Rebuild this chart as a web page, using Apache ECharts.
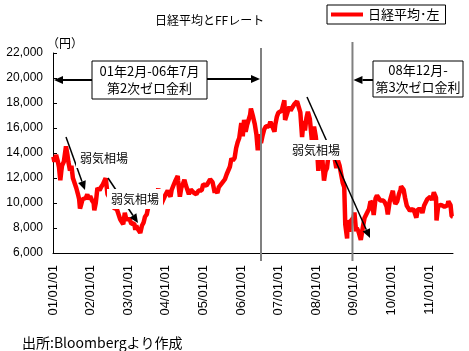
<!DOCTYPE html>
<html><head><meta charset="utf-8">
<script src="https://cdn.jsdelivr.net/npm/echarts@6/dist/echarts.min.js"></script>
<style>html,body{margin:0;padding:0;background:#fff}#c{width:469px;height:351px}</style>
</head><body><div id="c"></div>
<script>
// ---- data ----
const dates = [
'2001-01-04','2001-01-15','2001-01-31','2001-02-15','2001-02-28','2001-03-13','2001-03-22','2001-03-30','2001-04-16','2001-04-27','2001-05-07','2001-05-22','2001-05-31','2001-06-15','2001-06-29','2001-07-13','2001-07-31','2001-08-15','2001-08-31','2001-09-12','2001-09-20','2001-09-28','2001-10-15','2001-10-31','2001-11-15','2001-11-30','2001-12-14','2001-12-28',
'2002-01-15','2002-01-31','2002-02-06','2002-02-20','2002-02-28','2002-03-08','2002-03-29','2002-04-15','2002-04-30','2002-05-27','2002-05-31','2002-06-14','2002-06-28','2002-07-15','2002-07-31','2002-08-15','2002-08-30','2002-09-13','2002-09-30','2002-10-15','2002-10-31','2002-11-14','2002-11-29','2002-12-13','2002-12-27',
'2003-01-15','2003-01-31','2003-02-14','2003-02-28','2003-03-11','2003-03-20','2003-03-31','2003-04-15','2003-04-28','2003-05-15','2003-05-30','2003-06-13','2003-06-30','2003-07-15','2003-07-31','2003-08-18','2003-08-29','2003-09-12','2003-09-30','2003-10-20','2003-10-31','2003-11-17','2003-11-28','2003-12-15','2003-12-30',
'2004-01-20','2004-01-30','2004-02-16','2004-02-27','2004-03-15','2004-03-31','2004-04-26','2004-04-30','2004-05-17','2004-05-31','2004-06-15','2004-06-30','2004-07-15','2004-07-30','2004-08-13','2004-08-31','2004-09-15','2004-09-30','2004-10-25','2004-10-29','2004-11-15','2004-11-30','2004-12-15','2004-12-30',
'2005-01-14','2005-01-31','2005-02-15','2005-02-28','2005-03-07','2005-03-31','2005-04-21','2005-04-28','2005-05-17','2005-05-31','2005-06-15','2005-06-30','2005-07-15','2005-07-29','2005-08-15','2005-08-31','2005-09-15','2005-09-30','2005-10-14','2005-10-31','2005-11-15','2005-11-30','2005-12-15','2005-12-30',
'2006-01-04','2006-01-18','2006-01-31','2006-02-15','2006-02-28','2006-03-15','2006-03-31','2006-04-07','2006-04-28','2006-05-15','2006-05-31','2006-06-13','2006-06-30','2006-07-14','2006-07-31','2006-08-15','2006-08-31','2006-09-15','2006-09-29','2006-10-13','2006-10-31','2006-11-22','2006-11-30','2006-12-15','2006-12-29',
'2007-01-15','2007-01-31','2007-02-26','2007-03-05','2007-03-30','2007-04-16','2007-04-27','2007-05-15','2007-05-31','2007-06-15','2007-06-29','2007-07-09','2007-07-31','2007-08-17','2007-08-31','2007-09-14','2007-09-28','2007-10-12','2007-10-31','2007-11-22','2007-11-30','2007-12-11','2007-12-28',
'2008-01-11','2008-01-22','2008-01-31','2008-02-15','2008-02-29','2008-03-17','2008-03-31','2008-04-15','2008-04-30','2008-05-19','2008-05-30','2008-06-06','2008-06-30','2008-07-15','2008-07-31','2008-08-15','2008-08-29','2008-09-16','2008-09-30','2008-10-10','2008-10-28','2008-10-31','2008-11-14','2008-11-20','2008-11-28','2008-12-15','2008-12-30',
'2009-01-07','2009-01-23','2009-01-30','2009-02-16','2009-02-27','2009-03-10','2009-03-31','2009-04-15','2009-04-30','2009-05-15','2009-05-29','2009-06-12','2009-06-30','2009-07-13','2009-07-31','2009-08-14','2009-08-31','2009-09-15','2009-09-30','2009-10-15','2009-10-30','2009-11-16','2009-11-27','2009-12-15','2009-12-30',
'2010-01-15','2010-01-29','2010-02-09','2010-02-26','2010-03-15','2010-03-31','2010-04-05','2010-04-30','2010-05-14','2010-05-31','2010-06-15','2010-06-30','2010-07-15','2010-07-30','2010-08-16','2010-08-31','2010-09-15','2010-09-30','2010-10-15','2010-10-29','2010-11-15','2010-11-30','2010-12-15','2010-12-30',
'2011-01-14','2011-01-31','2011-02-17','2011-02-28','2011-03-10','2011-03-15','2011-03-31','2011-04-15','2011-04-28','2011-05-16','2011-05-31','2011-06-15','2011-06-30','2011-07-08','2011-07-29','2011-08-09','2011-08-22'
];
const nikkei = [
13691,13300,13843,13400,12883,11820,12500,12999,13300,13934,14529,13800,13262,12600,12969,12000,11860,11200,10713,10292,9554,9774,10300,10366,10400,10697,10300,10542,
10200,9997,9420,10000,10587,11200,11024,11300,11492,11979,11763,10700,10621,10300,9877,9600,9619,9500,9383,8700,8640,8303,9215,8700,8579,
8700,8340,8500,8363,7862,8200,7973,7900,7607,8200,8425,8900,9083,9700,9563,10000,10344,10700,10219,11161,10560,9900,10101,10200,10677,
11000,10784,10500,11042,11400,11715,12163,11762,10505,11236,11500,11858,11400,11326,10700,11082,11100,10824,10700,10771,11000,10899,11000,11489,
11400,11388,11600,11740,11900,11669,10825,11009,10800,11277,11400,11584,11700,11900,12300,12414,12900,13574,13400,13607,14400,14872,15200,16111,
16400,15341,16650,15700,16205,16300,17060,17563,16906,16300,15467,14219,15505,14800,15457,15900,16141,16100,16128,16500,16399,15700,16274,16900,17226,
17300,17383,18216,16642,17288,17700,17400,17500,17876,18000,18138,18261,17248,15273,16569,15800,16786,17300,16737,14837,15681,16100,15308,
14100,12573,13592,13600,13603,11787,12526,12800,13850,14269,14339,14489,13481,12800,13377,13000,13073,11600,11260,8276,7162,8577,8400,7703,8512,8600,8860,
9239,7745,7994,7700,7568,7054,8110,8800,8828,9300,9523,10135,9958,9050,10357,10600,10493,10200,10133,10200,10035,9700,9081,10100,10546,
10982,10198,9932,10126,10700,11090,11339,11057,10400,9769,9900,9383,9500,9537,9200,8824,9500,9369,9500,9202,9800,9937,10300,10229,
10500,10238,10857,10624,10434,8605,9755,9600,9850,9700,9694,9600,9816,10138,9833,8944,8900
];
const xTickLabels = ['01/01/01','02/01/01','03/01/01','04/01/01','05/01/01','06/01/01','07/01/01','08/01/01','09/01/01','10/01/01','11/01/01'];
const zeroRateEnds = ['2006-07-14','2008-12-19'];
const seriesName = '日経平均･左';

function dy(s){const [y,m,d]=s.split('-').map(Number);const t=Date.UTC(y,m-1,d),a=Date.UTC(y,0,1),b=Date.UTC(y+1,0,1);return y+(t-a)/(b-a);}
const NUM = '"Liberation Sans", Arial, "Noto Sans CJK JP", sans-serif';
const JP = '"Noto Sans CJK JP", "Liberation Sans", sans-serif';

const chart = echarts.init(document.getElementById('c'), null, {renderer:'canvas'});
const xMin = 2001, xMax = dy(dates[dates.length-1]);
chart.setOption({
  animation:false,
  backgroundColor:'#fff',
  title:{text:'日経平均とFFレート', left:150, top:9, textStyle:{fontFamily:JP, fontSize:12, fontWeight:'normal', color:'#000'}},
  legend:{left:327, top:5, padding:[3,6,3,4], itemGap:6, borderColor:'#000', borderWidth:1, borderRadius:0,
    itemWidth:32, itemHeight:4, icon:'rect', data:[seriesName],
    textStyle:{fontFamily:JP, fontSize:13, color:'#000'}},
  grid:{left:53, right:16, top:53, bottom:98, outerBoundsMode:'none', containLabel:false},
  xAxis:{type:'value', min:xMin, max:xMax, interval:1,
    axisLine:{show:true, lineStyle:{color:'#000', width:1}}, axisTick:{show:false}, splitLine:{show:false},
    axisLabel:{rotate:90, margin:12, showMaxLabel:false, color:'#000', fontFamily:NUM, fontSize:13,
      formatter:v=>{const i=Math.round(v-2001);return (Math.abs(v-2001-i)<1e-6 && xTickLabels[i])||'';}}},
  yAxis:{type:'value', min:6000, max:22000, interval:2000,
    axisLine:{show:true, lineStyle:{color:'#000', width:1}},
    axisTick:{show:true, inside:true, length:4, lineStyle:{color:'#000'}}, splitLine:{show:false},
    axisLabel:{margin:10, color:'#000', fontFamily:NUM, fontSize:12, formatter:v=>v.toLocaleString('en-US')}},
  series:[{name:seriesName, type:'line', showSymbol:false, symbol:'none',
    data:dates.map((d,i)=>[dy(d), nikkei[i]]),
    lineStyle:{color:'#ff0000', width:4.5}, itemStyle:{color:'#ff0000'}}]
});

function arrow(x1,y1,x2,y2,w,head){
  const ang=Math.atan2(y2-y1,x2-x1), L=head, H=head*0.45;
  const bx=x2-L*Math.cos(ang), by=y2-L*Math.sin(ang);
  const px=-Math.sin(ang), py=Math.cos(ang);
  return [
    {type:'line', shape:{x1,y1,x2:bx,y2:by}, style:{stroke:'#000', lineWidth:w}, z:50},
    {type:'polygon', shape:{points:[[x2,y2],[bx+px*H,by+py*H],[bx-px*H,by-py*H]]}, style:{fill:'#000'}, z:50}
  ];
}
function label(x,y,txt,z){
  return {type:'text', x, y, z:z||60, style:{text:txt, fill:'#000', font:'12px '+JP, align:'center', verticalAlign:'middle',
    backgroundColor:'#fff', padding:[4,4]}};
}
const v1 = chart.convertToPixel({xAxisIndex:0}, dy(zeroRateEnds[0]));
const v2 = chart.convertToPixel({xAxisIndex:0}, dy(zeroRateEnds[1]));
const x0 = chart.convertToPixel({xAxisIndex:0}, xMin);
const yBot = chart.convertToPixel({yAxisIndex:0}, 6000);
const g = [];
g.push({type:'line', shape:{x1:v1,y1:48,x2:v1,y2:yBot+8}, style:{stroke:'#808080', lineWidth:2}, z:40});
g.push({type:'line', shape:{x1:v2,y1:42,x2:v2,y2:yBot+8}, style:{stroke:'#808080', lineWidth:2}, z:40});
// box 1
g.push(...arrow(92,80,x0+1,80,2,9));
g.push(...arrow(207,79,v1-1,79,2,9));
g.push({type:'rect', shape:{x:92,y:61,width:115,height:38}, style:{fill:'#fff', stroke:'#000', lineWidth:1}, z:55});
g.push({type:'text', x:149.5, y:80, z:56, style:{text:'01年2月-06年7月\n第2次ゼロ金利', fill:'#000', font:'13px '+JP, align:'center', verticalAlign:'middle', lineHeight:17}});
// box 2
g.push(...arrow(373,80,v2+1,80,2,9));
g.push({type:'rect', shape:{x:373,y:61,width:90,height:36}, style:{fill:'#fff', stroke:'#000', lineWidth:1}, z:55});
g.push({type:'text', x:418, y:79, z:56, style:{text:'08年12月-\n第3次ゼロ金利', fill:'#000', font:'13px '+JP, align:'center', verticalAlign:'middle', lineHeight:17}});
// weak markets
g.push(...arrow(66,137,85,190,1.5,9));
g.push(label(104,158,'弱気相場'));
g.push(...arrow(108,178,138,223,1.5,9));
g.push(label(135,199,'弱気相場'));
g.push(...arrow(307,97,370,238,1.5,9));
g.push(label(316,150,'弱気相場'));
// y unit & source
g.push({type:'text', x:47, y:43, z:60, style:{text:'（円）', fill:'#000', font:'12px '+JP, verticalAlign:'middle'}});
g.push({type:'text', x:22, y:343, z:60, style:{text:'出所:Bloombergより作成', fill:'#000', font:'14px '+JP, verticalAlign:'middle'}});
chart.setOption({graphic:{elements:g}});
</script></body></html>
